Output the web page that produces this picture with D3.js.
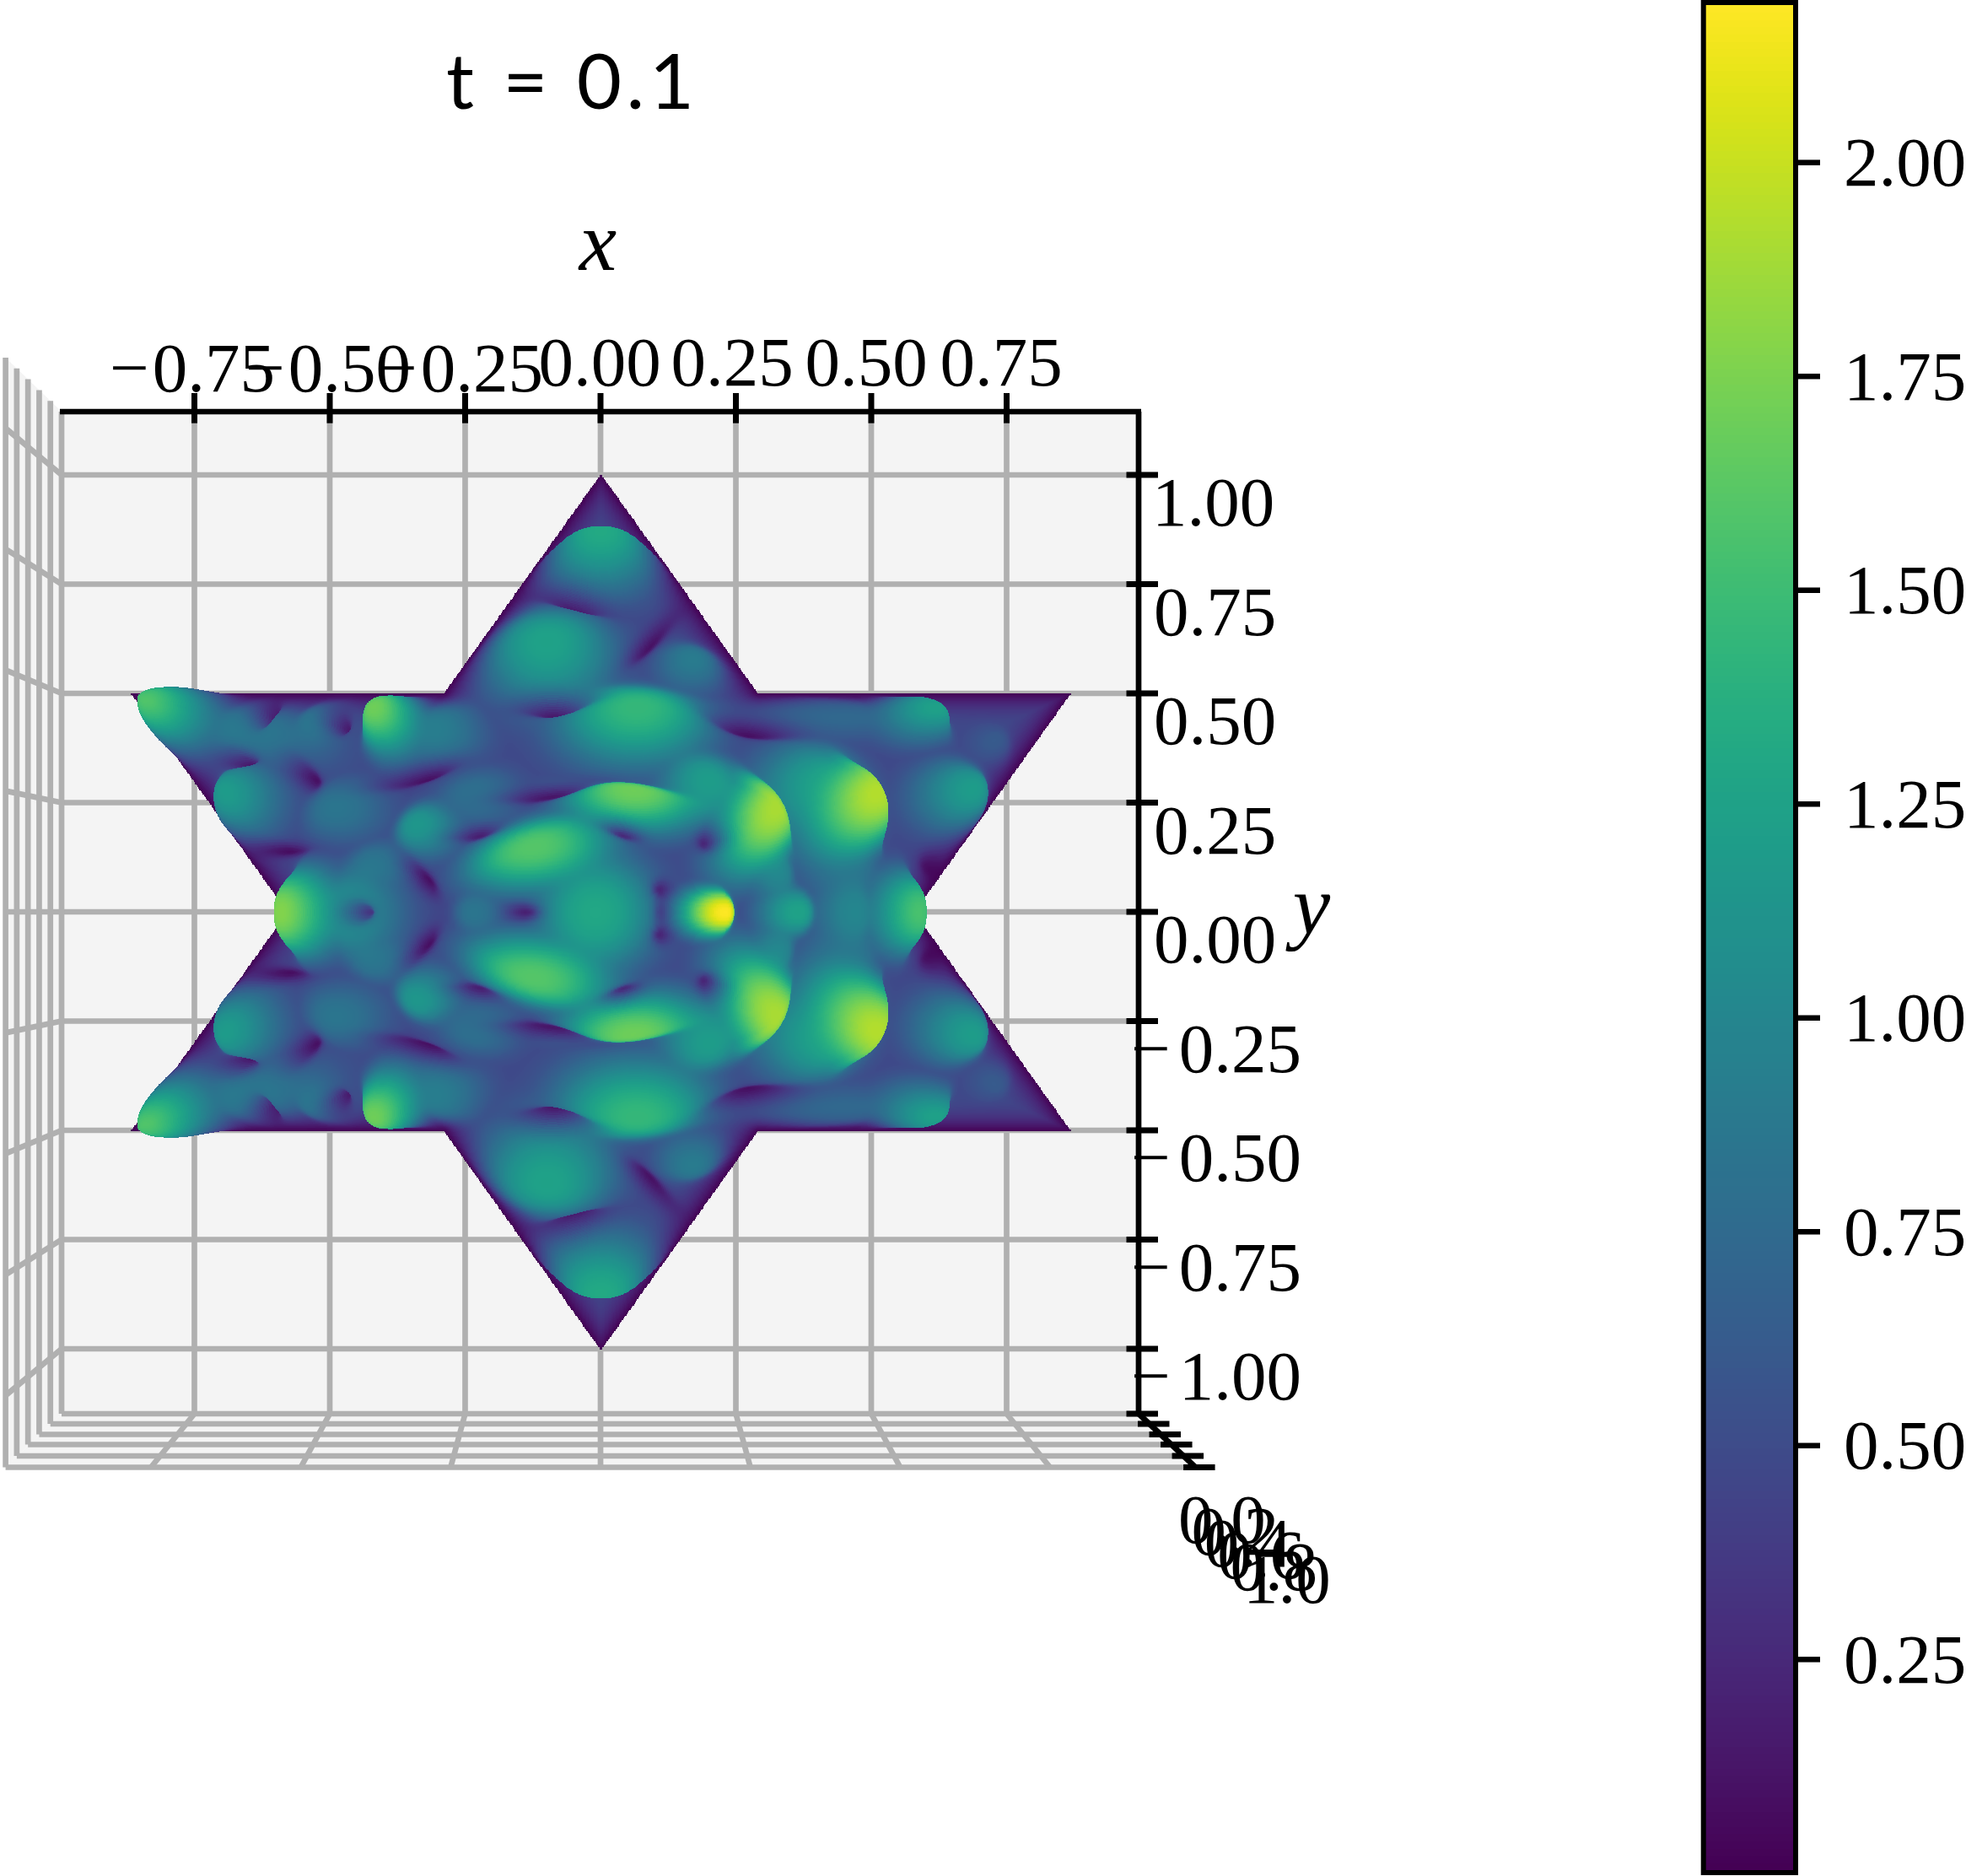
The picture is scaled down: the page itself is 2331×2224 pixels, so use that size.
<!DOCTYPE html>
<html><head><meta charset="utf-8">
<script src="https://cdnjs.cloudflare.com/ajax/libs/d3/7.8.5/d3.min.js"></script>
<style>html,body{margin:0;padding:0;background:#fff;overflow:hidden}svg{display:block}</style>
</head><body><div id="c"></div>
<script>
const xTicks=[-0.75,-0.5,-0.25,0,0.25,0.5,0.75];
const yTicks=[1,0.75,0.5,0.25,0,-0.25,-0.5,-0.75,-1];
const zTicks=[0,0.2,0.4,0.6,0.8,1];
const cbTicks=[0.25,0.5,0.75,1,1.25,1.5,1.75,2];
const colorRange=[0.0037,2.184];
const starOutline=[[0,1],[0.2887,0.5],[0.866,0.5],[0.5774,0],[0.866,-0.5],[0.2887,-0.5],[0,-1],[-0.2887,-0.5],[-0.866,-0.5],[-0.5774,0],[-0.866,0.5],[-0.2887,0.5]];
const baseLevel=0.46;
// surface crests: seen at (x, y), height, spread a, spread b, tilt, outer-side sharpness
const crests=[
[0,0.875,1.32,0.09,0.09,0,0.35],[-0.10,0.62,1.25,0.11,0.12,0,0.8],[0.17,0.58,0.9,0.06,0.06,0,0.8],
[0.066,0.47,1.45,0.13,0.10,0,0.7],[0.06,0.28,1.7,0.12,0.07,-8,0.45],[0.325,0.24,1.9,0.07,0.13,-20,0.35],
[0.2,0.3,1.2,0.08,0.09,0,0.8],[0.515,0.27,1.9,0.08,0.12,-25,0.3],[0.42,0.29,1.25,0.11,0.11,0,0.8],
[0.23,0,2.18,0.055,0.05,0,0.6],[0.365,0,1.25,0.055,0.055,0,0.8],[0.33,0.09,1.0,0.045,0.065,0,0.8],[0.60,0,1.6,0.055,0.085,0,0.5],
[0.47,0,1.0,0.06,0.08,0,0.8],[0.46,0.1,0.85,0.08,0.08,0,0.8],[0.62,0.475,1.25,0.07,0.055,0,0.5],[0.45,0.46,0.75,0.15,0.055,0,0.8],
[0.69,0.28,1.2,0.075,0.075,0,0.8],[0.733,0.39,0.62,0.045,0.04,0,0.8],[-0.125,0.15,1.6,0.13,0.08,15,0.8],
[-0.01,0,1.3,0.105,0.13,0,1],[-0.235,0,0.85,0.05,0.05,0,0.8],[-0.339,0.2,1.15,0.06,0.06,0,0.8],[-0.2,0.1,0.7,0.08,0.08,0,1],
[-0.235,0.27,0.8,0.08,0.07,0,0.8],[-0.49,0.24,0.85,0.08,0.07,0,0.8],[-0.70,0.27,1.2,0.07,0.08,0,0.7],
[-0.60,0,1.8,0.06,0.09,0,0.5],[-0.47,0,1.1,0.08,0.1,0,0.8],[-0.42,0.11,0.85,0.07,0.055,0,0.8],
[-0.845,0.49,1.6,0.06,0.07,0,0.8],[-0.66,0.42,0.88,0.14,0.07,-15,0.8],[-0.42,0.47,1.7,0.05,0.07,0,0.7],
[-0.31,0.42,0.92,0.08,0.08,0,0.8],[-0.53,0.44,0.85,0.05,0.06,0,0.8]
];
// dark creases: x, y, depth, spread a, spread b, tilt
const creases=[
[-0.045,0.675,0.8,0.06,0.02,-20],[-0.084,0.44,0.85,0.06,0.02,0],[-0.084,0.26,0.85,0.08,0.018,10],
[0.04,0.17,0.75,0.035,0.015,-20],[0.186,0.153,0.75,0.022,0.028,0],[0.106,0.05,0.65,0.018,0.022,0],[0.105,0,0.4,0.015,0.03,0],
[-0.633,0.33,0.85,0.035,0.018,0],[-0.52,0.3,0.85,0.022,0.035,30],[-0.315,0.3,0.85,0.07,0.018,20],
[-0.41,0,0.7,0.025,0.025,0],[-0.315,0.074,0.85,0.018,0.045,30],[-0.57,0.138,0.85,0.05,0.018,0],
[-0.22,0.17,0.7,0.04,0.016,15],[-0.585,0.43,0.85,0.018,0.035,0],[-0.135,0,0.7,0.03,0.02,0],
[0.27,0.40,0.85,0.07,0.02,-10],[0.09,0.6,0.8,0.07,0.018,55],[-0.458,0.41,0.8,0.02,0.03,0],[0.6,0.1,0.7,0.04,0.025,-50]
];
const W=2331,H=2224;
const unitX=d3.scaleLinear().domain([-1,1]).range([70,1354]);
const unitY=d3.scaleLinear().domain([-1,1]).range([1599,563]);
const zoomByZ=d3.scaleLinear().domain([0,1]).range([1,1.107]);
const wallX=d3.scaleLinear().domain([0,1]).range([73,6.6]);
const rightX=d3.scaleLinear().domain([0,1]).range([1350,1417.6]);
const floorY=d3.scaleLinear().domain(zTicks).range([1676,1688,1700.5,1712.5,1726,1739.5]);
const topY=d3.scaleLinear().domain([0,1]).range([488,424]);
const wallSpread=d3.scaleLinear().domain([0,1]).range([1,1.107]);
const cbY=d3.scaleLinear().domain(colorRange).range([2217,6]);
const color=d3.scaleSequential(d3.interpolateViridis).domain(colorRange);
const svg=d3.select('#c').append('svg').attr('width',W).attr('height',H).attr('viewBox',`0 0 ${W} ${H}`);
const GREY='#b0b0b0',PANE='#f4f4f4',SERIF='"Liberation Serif",serif';
const panes=[[[73,488],[1350,488],[1350,1676],[73,1676]],[[73,488],[6.6,424],[6.6,1739.5],[73,1676]],[[73,1676],[1350,1676],[1417.6,1739.5],[6.6,1739.5]]];
svg.append('g').selectAll('path').data(panes).join('path').attr('d',d=>d3.line()(d)+'Z').attr('fill',PANE);
const grid=svg.append('g').attr('stroke',GREY).attr('stroke-width',6.7).attr('fill','none');
const seg=(a,b,c,d)=>grid.append('line').attr('x1',a).attr('y1',b).attr('x2',c).attr('y2',d);
xTicks.forEach(t=>{const x=unitX(t);seg(x,488,x,1676);seg(x,1676,unitX(t*wallSpread(1)),1739.5);});
yTicks.forEach(t=>{const y=unitY(t);seg(73,y,1350,y);seg(73,y,6.6,unitY(t*wallSpread(1)));});
zTicks.forEach(z=>{seg(wallX(z),floorY(z),rightX(z),floorY(z));seg(wallX(z),topY(z),wallX(z),floorY(z));});
// surface
const cv=document.createElement('canvas');cv.width=W;cv.height=H;
const ctx=cv.getContext('2d');const img=ctx.createImageData(W,H);const zbuf=new Float32Array(W*H).fill(-1);
const lut=d3.range(512).map(i=>d3.rgb(color(colorRange[0]+(colorRange[1]-colorRange[0])*i/511)));
function prep(p,sign){const [ux,uy,v,a,b,deg,out]=p;const s=zoomByZ(v);const x=ux/s,y=sign*uy/s;const r=Math.hypot(x,y)||1;const th=sign*deg*Math.PI/180;
 return {x,y,amp:v-baseLevel,a,b,c:Math.cos(th),s:Math.sin(th),nx:x/r,ny:y/r,k:1/out-1};}
function prepC(p,sign){const [ux,uy,depth,a,b,deg]=p;const th=sign*deg*Math.PI/180;return {x:ux,y:sign*uy,depth,a,b,c:Math.cos(th),s:Math.sin(th)};}
const tops=[],lows=[];
crests.forEach(p=>{tops.push(prep(p,1));if(p[1]!==0)tops.push(prep(p,-1));});
creases.forEach(p=>{lows.push(prepC(p,1));if(p[1]!==0)lows.push(prepC(p,-1));});
const segs=starOutline.map((p,i)=>[p,starOutline[(i+1)%starOutline.length]]);
function edgeDist(x,y){let m=9;for(const [p,q] of segs){const dx=q[0]-p[0],dy=q[1]-p[1];let t=((x-p[0])*dx+(y-p[1])*dy)/(dx*dx+dy*dy);t=t<0?0:t>1?1:t;const ex=x-p[0]-t*dx,ey=y-p[1]-t*dy;const d=ex*ex+ey*ey;if(d<m)m=d;}return Math.sqrt(m);}
const R3=Math.sqrt(3),step=0.002,NX=871,NY=1001;
function inside(x,y){const ax=Math.abs(x);return (y>=-0.5&&y<=1-R3*ax)||(y<=0.5&&y>=-1+R3*ax);}
const gz=new Float32Array(NX*NY).fill(NaN),gx=new Float32Array(NX*NY),gy=new Float32Array(NX*NY);
for(let j=0;j<NY;j++){const y=j*step;for(let i=0;i<NX;i++){const x=-0.87+i*step;
 if(!inside(x,y))continue;
 let sum=0;
 for(const p of tops){let dx=x-p.x,dy=y-p.y;
  const t=dx*p.nx+dy*p.ny;if(t>0){const e=t*p.k;dx+=e*p.nx;dy+=e*p.ny;}
  const u=(dx*p.c+dy*p.s)/p.a,v=(-dx*p.s+dy*p.c)/p.b;const d=u*u+v*v;if(d<8){const g=p.amp*Math.exp(-Math.pow(d,1.25));sum+=g*g*g;}}
 sum=Math.cbrt(sum);
 const dd=edgeDist(x,y);
 const mBase=dd>=0.1?1:Math.sin(dd/0.1*Math.PI/2);
 const mTop=dd>=0.035?1:Math.sin(dd/0.035*Math.PI/2);
 let z=baseLevel*mBase+sum*mTop;
 for(const p of lows){const dx=x-p.x,dy=y-p.y;const u=(dx*p.c+dy*p.s)/p.a,v=(-dx*p.s+dy*p.c)/p.b;const d=u*u+v*v;if(d<6)z*=1-p.depth*Math.exp(-d);}
 z=Math.max(0.01,z);
 const k=j*NX+i,s=zoomByZ(z);gz[k]=z;gx[k]=unitX(x*s);gy[k]=unitY(y*s);
}}
function fillCell(k0,k1,k2,k3,flip){
 const zs=[gz[k0],gz[k1],gz[k2],gz[k3]];let n=0,zsum=0,x0=1e9,x1=-1e9,y0=1e9,y1=-1e9;
 [k0,k1,k2,k3].forEach((k,q)=>{if(zs[q]===zs[q]){n++;zsum+=zs[q];const X=gx[k],Y=flip?2*unitY(0)-gy[k]:gy[k];if(X<x0)x0=X;if(X>x1)x1=X;if(Y<y0)y0=Y;if(Y>y1)y1=Y;}});
 if(n<3)return;const z=zsum/n;
 const ci=Math.max(0,Math.min(511,Math.round((z-colorRange[0])/(colorRange[1]-colorRange[0])*511)));const c=lut[ci];
 const a=Math.round(x0),b=Math.round(x1),e=Math.round(y0),f=Math.round(y1);
 for(let py=e;py<=f;py++)for(let px=a;px<=b;px++){const k=py*W+px;if(z>zbuf[k]){zbuf[k]=z;const o=k*4;img.data[o]=c.r;img.data[o+1]=c.g;img.data[o+2]=c.b;img.data[o+3]=255;}}
}
for(let j=0;j<NY-1;j++)for(let i=0;i<NX-1;i++){const k=j*NX+i;fillCell(k,k+1,k+NX,k+NX+1,false);fillCell(k,k+1,k+NX,k+NX+1,true);}
ctx.putImageData(img,0,0);
svg.append('image').attr('x',0).attr('y',0).attr('width',W).attr('height',H).attr('href',cv.toDataURL());
const ink=svg.append('g').attr('stroke','#000').attr('fill','none');
const bl=(a,b,c,d,w)=>ink.append('line').attr('x1',a).attr('y1',b).attr('x2',c).attr('y2',d).attr('stroke-width',w);
bl(71,488,1353,488,6.7);bl(1350,488,1350,1676,6.7);bl(1350,1676,1417.6,1739.5,6.7);
xTicks.forEach(t=>bl(unitX(t),466,unitX(t),501.7,7));
yTicks.forEach(t=>bl(1335.5,unitY(t),1373,unitY(t),7));
zTicks.forEach(z=>bl(rightX(z)-14.5,floorY(z),rightX(z)+23,floorY(z),7));
const txt=svg.append('g').attr('font-family',SERIF).attr('font-size',83).attr('fill','#000');
const xOff=[-2.5,-2,-5.5,-1,-4.5,-6,-6.5];
const num=t=>Math.abs(t).toFixed(2);
xTicks.forEach((t,i)=>{const e=txt.append('text').attr('x',unitX(t)+xOff[i]).attr('y',t<0?464:456.5).attr('text-anchor','middle');
 if(t<0){e.append('tspan').text('\u2212');e.append('tspan').attr('dx',4).text(num(t));}else e.text(num(t));});
yTicks.forEach(t=>{const e=txt.append('text').attr('y',unitY(t)+60);
 if(t<0){e.attr('x',1543).attr('text-anchor','end');e.append('tspan').text('\u2212');e.append('tspan').attr('dx',10).text(num(t));}
 else{e.attr('x',t===1?1366:1368).text(num(t));}});
const zLabX=d3.scaleLinear().domain([0,1]).range([1397,1474]);
const zLabY=d3.scaleLinear().domain([0,1]).range([1829,1899.5]);
zTicks.forEach(z=>txt.append('text').attr('x',zLabX(z)).attr('y',zLabY(z)).text(z.toFixed(1)));
svg.append('text').attr('x',529).attr('y',129).attr('font-family','Lato,"Liberation Sans",sans-serif').attr('font-size',92).attr('textLength',294).attr('xml:space','preserve').text('t = 0.1');
svg.append('text').attr('x',709).attr('y',320).attr('text-anchor','middle').attr('font-family',SERIF).attr('font-style','italic').attr('font-size',100).text('x');
svg.append('text').attr('x',1555).attr('y',1107).attr('text-anchor','middle').attr('font-family',SERIF).attr('font-style','italic').attr('font-size',100).text('y');
const bar=svg.append('g');
bar.selectAll('rect').data(d3.range(0,2211)).join('rect').attr('x',2020).attr('width',109).attr('y',d=>6+d).attr('height',2).attr('fill',d=>color(cbY.invert(6+d)));
bar.append('rect').attr('x',2019.7).attr('y',3).attr('width',109.3).attr('height',2217).attr('fill','none').attr('stroke','#000').attr('stroke-width',6);
const cbScale=d3.scaleLinear().domain([0.25,2]).range([1967.3,192.7]);
cbTicks.forEach(t=>{bar.append('line').attr('x1',2129).attr('x2',2158).attr('y1',cbScale(t)).attr('y2',cbScale(t)).attr('stroke','#000').attr('stroke-width',6.5);
 bar.append('text').attr('x',2186).attr('y',cbScale(t)+27.5).attr('font-family',SERIF).attr('font-size',83).text(t.toFixed(2));});
</script></body></html>
